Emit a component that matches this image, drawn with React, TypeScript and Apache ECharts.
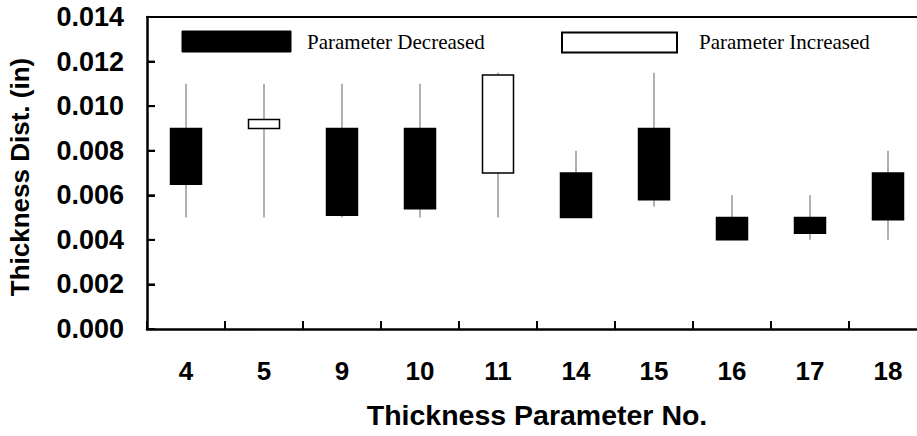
import React, { useEffect, useRef } from "react";
import * as echarts from "echarts";

const categories = ["4", "5", "9", "10", "11", "14", "15", "16", "17", "18"];
const openValues = [0.009, 0.009, 0.009, 0.009, 0.007, 0.007, 0.009, 0.005, 0.005, 0.007];
const closeValues = [0.0065, 0.0094, 0.0051, 0.0054, 0.0114, 0.005, 0.0058, 0.004, 0.0043, 0.0049];
const lowValues = [0.005, 0.005, 0.005, 0.005, 0.005, 0.005, 0.0055, 0.004, 0.004, 0.004];
const highValues = [0.011, 0.011, 0.011, 0.011, 0.0115, 0.008, 0.0115, 0.006, 0.006, 0.008];
const yTickValues = [0.002, 0.004, 0.006, 0.008, 0.01, 0.012];
const legendLabels = ["Parameter Decreased", "Parameter Increased"];
const yTitle = "Thickness Dist. (in)";
const xTitle = "Thickness Parameter No.";

export default function App() {
  const ref = useRef<HTMLDivElement>(null);
  useEffect(() => {
    document.body.style.margin = "0";
    document.body.style.overflow = "hidden";
    document.documentElement.style.overflow = "hidden";
    if (!ref.current) return;
    const chart = echarts.init(ref.current, null, { renderer: "svg" });
    const sans = "Liberation Sans, Arial, sans-serif";
    const serif = "Liberation Serif, Times New Roman, serif";
    const wickData = categories.map((_, i) => [lowValues[i], highValues[i], lowValues[i], highValues[i]]);
    const bodyData = categories.map((_, i) => [
      openValues[i],
      closeValues[i],
      Math.min(openValues[i], closeValues[i]),
      Math.max(openValues[i], closeValues[i]),
    ]);
    const gridLeft = 147;
    const baseGraphic: any[] = [
      {
        type: "text",
        x: 20,
        y: 177,
        rotation: Math.PI / 2,
        style: {
          text: yTitle,
          fontFamily: sans,
          fontWeight: "bold",
          fontSize: 26,
          fill: "#000",
          textAlign: "center",
          textVerticalAlign: "middle",
        },
      },
      {
        type: "rect",
        shape: { x: 182, y: 31, width: 109, height: 21 },
        style: { fill: "#000", stroke: "#000", lineWidth: 1 },
      },
      {
        type: "text",
        x: 307,
        y: 42,
        style: {
          text: legendLabels[0],
          fontFamily: serif,
          fontSize: 21,
          fill: "#000",
          textVerticalAlign: "middle",
        },
      },
      {
        type: "rect",
        shape: { x: 562, y: 32.5, width: 115, height: 20 },
        style: { fill: "#fff", stroke: "#000", lineWidth: 2 },
      },
      {
        type: "text",
        x: 699,
        y: 42,
        style: {
          text: legendLabels[1],
          fontFamily: serif,
          fontSize: 21,
          fill: "#000",
          textVerticalAlign: "middle",
        },
      },
    ];
    chart.setOption({
      animation: false,
      backgroundColor: "#fff",
      grid: {
        left: gridLeft,
        top: 17,
        right: 3,
        height: 312,
      },
      xAxis: [
        {
          type: "category",
          data: categories,
          boundaryGap: true,
          name: xTitle,
          nameLocation: "middle",
          nameGap: 71,
          nameTextStyle: { fontFamily: sans, fontWeight: "bold", fontSize: 28.5, color: "#000" },
          axisLine: { lineStyle: { color: "#000", width: 2.5 } },
          axisTick: { show: true, inside: true, length: 8, lineStyle: { color: "#000", width: 2 } },
          axisLabel: { fontFamily: sans, fontWeight: "bold", fontSize: 26, color: "#000", margin: 29 },
          splitLine: { show: false },
        },
        {
          type: "category",
          data: categories,
          position: "top",
          axisLine: { show: true, lineStyle: { color: "#000", width: 2 } },
          axisTick: { show: false },
          axisLabel: { show: false },
          splitLine: { show: false },
        },
      ],
      yAxis: {
        type: "value",
        min: 0,
        max: 0.014,
        interval: 0.002,
        position: "left",
        splitLine: { show: false },
        axisLine: { show: true, lineStyle: { color: "#000", width: 2.5 } },
        axisTick: { show: true, inside: true, length: 8, lineStyle: { color: "#000", width: 2 } },
        axisLabel: {
          fontFamily: sans,
          fontWeight: "bold",
          fontSize: 27,
          color: "#000",
          margin: 23,
          formatter: (v: number) => v.toFixed(3),
        },
      },
      graphic: baseGraphic,
      series: [
        {
          type: "candlestick",
          data: wickData,
          barWidth: 2,
          z: 2,
          itemStyle: { color: "#666", color0: "#666", borderColor: "#666", borderColor0: "#666", borderWidth: 0 },
        },
        {
          type: "candlestick",
          data: bodyData,
          barWidth: 32,
          z: 3,
          itemStyle: {
            color: "#fff",
            color0: "#000",
            borderColor: "#000",
            borderColor0: "#000",
            borderWidth: 1.5,
          },
        },
      ],
    });
    const tickLines = yTickValues.map((v) => {
      const y = chart.convertToPixel({ yAxisIndex: 0 }, v) as number;
      return {
        type: "rect",
        z: 100,
        shape: { x: gridLeft, y: y - 1, width: 8, height: 2 },
        style: { fill: "#000" },
      };
    });
    chart.setOption({ graphic: [...baseGraphic, ...tickLines] });
    return () => chart.dispose();
  }, []);
  return (
    <div
      ref={ref}
      style={{ position: "fixed", left: 0, top: 0, width: 930, height: 436 }}
    />
  );
}
